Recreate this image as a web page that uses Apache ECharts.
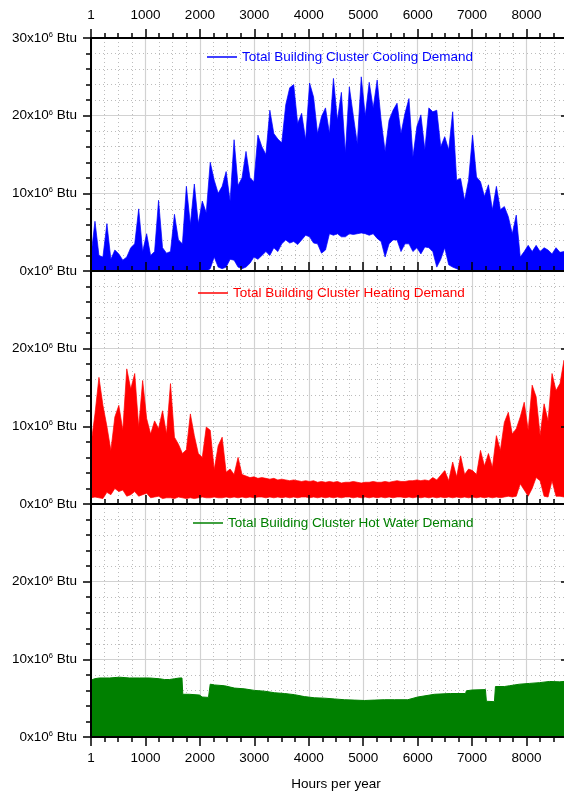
<!DOCTYPE html>
<html>
<head>
<meta charset="utf-8">
<script src="https://cdn.jsdelivr.net/npm/echarts@6/dist/echarts.min.js"></script>
<style>
html,body{margin:0;padding:0;background:#fff;}
#chart{width:564px;height:792px;}
</style>
</head>
<body>
<div id="chart"></div>
<script>
// ---- data ----
const hourGrid = [0,73,146,219,292,365,438,511,584,657,730,803,876,949,1022,1095,1168,1241,1314,1387,1460,1533,1606,1679,1752,1825,1898,1971,2044,2117,2190,2263,2336,2409,2482,2555,2628,2701,2774,2847,2920,2993,3066,3139,3212,3285,3358,3431,3504,3577,3650,3723,3796,3869,3942,4015,4088,4161,4234,4307,4380,4453,4526,4599,4672,4745,4818,4891,4964,5037,5110,5183,5256,5329,5402,5475,5548,5621,5694,5767,5840,5913,5986,6059,6132,6205,6278,6351,6424,6497,6570,6643,6716,6789,6862,6935,7008,7081,7154,7227,7300,7373,7446,7519,7592,7665,7738,7811,7884,7957,8030,8103,8176,8249,8322,8395,8468,8541,8614,8687,8760];

// Cooling demand (x10^6 Btu): upper and lower envelope of the hourly trace
const coolUpper = [
 2.0,6.4,2.0,1.8,6.1,1.5,2.7,2.2,1.4,1.8,
 3.0,3.5,8.0,2.5,4.8,2.0,2.5,9.1,3.0,2.3,
 2.5,7.3,4.0,3.5,10.9,6.0,11.2,6.1,9.0,7.5,
 14.0,11.7,10.0,10.9,12.8,9.0,16.9,11.0,12.0,15.4,
 12.0,11.5,17.5,16.0,15.0,20.7,17.7,17.0,16.5,21.4,
 23.6,24.0,19.0,20.3,16.9,24.2,22.4,17.7,19.9,21.0,
 17.7,24.8,19.4,23.0,15.2,23.7,20.0,16.4,25.0,20.0,
 24.3,21.0,24.6,19.4,15.4,19.4,20.7,21.6,17.7,20.3,
 22.2,14.7,18.6,20.1,15.6,21.0,20.5,20.7,16.0,17.3,
 15.6,20.5,11.7,11.9,9.1,11.7,17.5,12.1,11.5,9.6,
 11.1,7.9,10.9,7.9,8.3,7.0,4.8,7.2,1.8,2.5,
 3.3,2.5,3.3,2.5,3.0,2.7,2.2,3.0,2.4,2.5,2.0];
const coolLower = [
 0,0,0,0,0,0,0,0,0,0,
 0,0,0,0,0,0,0,0,0,0,
 0,0,0,0,0,0,0,0,0,0,
 0.3,1.8,0.5,0.3,0.5,1.5,1.4,0.5,0.3,0.5,
 1.0,1.8,1.5,2.0,2.5,2.0,3.0,2.5,3.5,4.0,
 3.6,3.8,3.4,4.0,4.6,4.4,3.6,3.5,2.3,2.7,
 4.8,4.6,4.8,4.4,4.4,4.8,4.7,4.8,4.9,4.8,
 4.6,4.8,4.2,3.8,1.8,3.5,4.0,4.0,2.5,3.5,
 3.5,2.5,3.0,2.2,3.1,3.0,2.5,0.5,1.5,3.0,
 0.8,0.5,0.3,0,0,0,0,0,0,0,
 0,0,0,0,0,0,0,0,0,0,
 0,0,0,0,0,0,0,0,0,0,0];

// Heating demand
const heatUpper = [
 7.7,11.6,16.3,12.7,10.0,6.9,11.2,12.7,9.5,17.4,
 14.8,16.8,9.9,15.9,11.0,9.0,10.7,9.7,12.0,9.0,
 15.5,8.6,7.7,6.5,7.0,11.6,8.8,6.5,6.0,9.9,
 9.5,4.4,7.5,8.6,4.1,4.5,3.8,6.0,3.8,3.6,
 3.4,3.5,3.3,3.4,3.3,3.2,3.3,3.1,3.2,3.1,
 3.0,3.1,3.0,2.9,3.0,2.9,3.0,2.8,2.9,2.8,
 2.9,2.8,2.9,2.7,2.8,2.8,2.9,2.8,2.7,2.8,
 2.8,2.9,2.8,2.8,2.9,2.8,2.9,3.0,2.9,2.9,
 3.0,3.0,3.1,3.0,3.1,3.0,3.4,3.1,3.7,4.3,
 3.0,5.4,3.5,6.2,3.8,4.5,4.3,3.8,6.9,4.9,
 6.5,4.7,8.8,6.9,10.5,11.8,9.0,9.7,11.2,13.1,
 9.5,15.3,13.8,8.8,12.9,10.7,16.8,14.6,15.5,18.5,16.0];
const heatLower = [
 0.8,0.9,0.8,0.7,1.5,1.2,2.0,1.6,1.8,1.0,
 1.2,1.6,1.0,1.2,1.4,0.8,0.9,1.0,0.7,0.8,
 0.8,0.7,0.9,0.8,0.7,0.8,0.7,0.8,0.9,0.8,
 0.8,0.9,0.8,0.8,0.9,0.8,0.9,0.8,0.9,0.8,
 0.9,0.8,0.9,0.9,0.8,0.9,0.8,0.9,0.8,0.9,
 0.8,0.9,0.8,0.9,0.9,0.8,0.9,0.8,0.9,0.8,
 0.9,0.8,0.9,0.8,0.9,0.9,0.8,0.9,0.8,0.9,
 0.8,0.9,0.8,0.9,0.8,0.9,0.8,0.9,0.9,0.8,
 0.9,0.8,0.9,0.8,0.9,0.8,0.9,0.8,0.9,0.8,
 0.9,0.8,0.9,0.8,0.9,0.8,0.9,0.8,0.9,0.8,
 0.9,0.8,0.9,0.8,0.9,1.0,0.9,1.0,2.6,1.8,
 1.0,2.0,3.4,3.0,1.0,0.9,3.0,1.0,1.0,0.9,1.0];

// Hot water demand
const hwHours  = [0,64,156,340,523,707,890,1074,1258,1350,1442,1533,1625,1671,1686,1809,1993,2040,2158,2180,2190,2268,2452,2635,2819,3003,3186,3370,3554,3737,3921,4104,4288,4472,4656,4839,5023,5207,5390,5574,5818,6002,6308,6600,6880,6895,7000,7245,7262,7410,7429,7594,7686,7870,8053,8237,8421,8604,8760];
const hwValues = [7.3,7.5,7.6,7.6,7.7,7.6,7.6,7.6,7.5,7.4,7.4,7.5,7.6,7.6,5.5,5.5,5.4,5.15,5.1,5.05,6.8,6.7,6.6,6.3,6.2,6.0,5.9,5.7,5.6,5.45,5.2,5.05,5.0,4.9,4.8,4.75,4.7,4.75,4.8,4.8,4.8,5.15,5.5,5.6,5.6,5.95,6.05,6.1,4.6,4.55,6.5,6.5,6.6,6.8,6.9,7.0,7.15,7.1,7.2];

const seriesNames = ['Total Building Cluster Cooling Demand','Total Building Cluster Heating Demand','Total Building Cluster Hot Water Demand'];
const seriesColors = ['#0000ff','#ff0000','#008000'];
const xLabelFirst = '1';
const axisName = 'Hours per year';

// ---- layout ----
const FONT = 'Liberation Sans, Arial, sans-serif';
const FS = 13.5;
const LEFT = 91, GW = 490, GH = 233;
const TOPS = [38, 271, 504];

function xData(g){
  return {type:'value', gridIndex:g, min:0, max:9000, interval:1000, position:'bottom', z:0,
    axisLine:{show:false}, axisTick:{show:false}, axisLabel:{show:false},
    minorTick:{show:false, splitNumber:4},
    splitLine:{show:true, lineStyle:{color:'#d2d2d2', width:1.2}},
    minorSplitLine:{show:true, lineStyle:{color:'#bcbcbc', width:1, type:[1,3]}}};
}
function xDeco(g, pos, inside, showLabels, name){
  const a = {type:'value', gridIndex:g, min:0, max:9000, interval:1000, position:pos, z:10,
    axisLine:{show:true, onZero:false, lineStyle:{color:'#000', width:2}},
    axisTick:{show:true, inside:inside, length:9, lineStyle:{color:'#000', width:1.5}},
    minorTick:{show:true, splitNumber:4, length:5, lineStyle:{color:'#000', width:1.5}},
    axisLabel:{show:showLabels, margin: pos==='top'?16:14, fontSize:FS, fontFamily:FONT, color:'#000',
      formatter:function(v){ return v===0 ? xLabelFirst : (v>=9000 ? '' : String(v)); }},
    splitLine:{show:false}};
  if (name){
    a.name = name; a.nameLocation='middle'; a.nameGap=40;
    a.nameTextStyle={fontSize:FS, fontFamily:FONT, color:'#000'};
  }
  return a;
}
function yData(g){
  return {type:'value', gridIndex:g, min:0, max:30, interval:10, position:'left', z:0,
    axisLine:{show:false}, axisTick:{show:false}, axisLabel:{show:false},
    minorTick:{show:false, splitNumber:5},
    splitLine:{show:true, lineStyle:{color:'#d2d2d2', width:1.2}},
    minorSplitLine:{show:true, lineStyle:{color:'#bcbcbc', width:1, type:[1,3]}}};
}
function yLeft(g, showMax){
  return {type:'value', gridIndex:g, min:0, max:30, interval:10, position:'left', z:10,
    axisLine:{show:true, onZero:false, lineStyle:{color:'#000', width:2}},
    axisTick:{show:true, inside:false, length:8, lineStyle:{color:'#000', width:1.5}},
    minorTick:{show:true, splitNumber:5, length:5, lineStyle:{color:'#000', width:1.5}},
    splitLine:{show:false},
    axisLabel:{show:true, margin:14, showMaxLabel:showMax, color:'#000', fontFamily:FONT,
      formatter:function(v){ return '{n|'+v+'x10}{s|6}{n| Btu}'; },
      rich:{ n:{fontSize:FS, fontFamily:FONT, color:'#000', lineHeight:14},
             s:{fontSize:7.5, fontFamily:FONT, color:'#000', lineHeight:7, verticalAlign:'top'} }}};
}
function yRight(g){
  return {type:'value', gridIndex:g, min:0, max:30, interval:10, position:'right', offset:-13, z:10,
    axisLine:{show:true, onZero:false, lineStyle:{color:'#000', width:2}},
    axisTick:{show:true, inside:true, length:7, lineStyle:{color:'#000', width:1.5}},
    minorTick:{show:true, splitNumber:5, length:4, lineStyle:{color:'#000', width:1.5}},
    axisLabel:{show:false}, splitLine:{show:false}};
}

function bandItem(hours, upper, lower, color){
  return function(params, api){
    if (params.dataIndex !== 0) return null;
    const pts = [];
    for (let i = 0; i < hours.length; i++) pts.push(api.coord([hours[i], upper[i]]));
    for (let i = hours.length - 1; i >= 0; i--) pts.push(api.coord([hours[i], lower[i]]));
    return {type:'polygon', shape:{points:pts}, style:{fill:color, stroke:color, lineWidth:0.7}};
  };
}
function bandData(hours, upper, lower){
  return hours.map(function(h,i){ return [h, lower[i], upper[i]]; });
}
function legendFor(i, left, top){
  return {show:true, left:left, top:top, padding:0, itemWidth:30, itemHeight:1.5, itemGap:0,
    selectedMode:false,
    textStyle:{color:seriesColors[i], fontSize:FS, fontFamily:FONT},
    data:[{name:seriesNames[i], icon:'rect', itemStyle:{color:seriesColors[i]}}]};
}

const option = {
  backgroundColor:'#fff',
  animation:false,
  textStyle:{fontFamily:FONT},
  grid: TOPS.map(function(t){ return {left:LEFT, top:t, width:GW, height:GH, outerBoundsMode:'none', containLabel:false}; }),
  xAxis:[xData(0), xData(1), xData(2),
         xDeco(0,'top',false,true), xDeco(0,'bottom',true,false),
         xDeco(1,'bottom',true,false), xDeco(2,'bottom',false,true,axisName)],
  yAxis:[yData(0), yData(1), yData(2),
         yLeft(0,true), yLeft(1,false), yLeft(2,false),
         yRight(0), yRight(1), yRight(2)],
  legend:[legendFor(0,207,50), legendFor(1,198,286), legendFor(2,193,516)],
  series:[
    {type:'custom', name:seriesNames[0], xAxisIndex:0, yAxisIndex:0, clip:true,
     itemStyle:{color:seriesColors[0]}, encode:{x:0, y:[1,2]},
     renderItem:bandItem(hourGrid, coolUpper, coolLower, seriesColors[0]),
     data:bandData(hourGrid, coolUpper, coolLower)},
    {type:'custom', name:seriesNames[1], xAxisIndex:1, yAxisIndex:1, clip:true,
     itemStyle:{color:seriesColors[1]}, encode:{x:0, y:[1,2]},
     renderItem:bandItem(hourGrid, heatUpper, heatLower, seriesColors[1]),
     data:bandData(hourGrid, heatUpper, heatLower)},
    {type:'line', name:seriesNames[2], xAxisIndex:2, yAxisIndex:2, symbol:'none',
     color:seriesColors[2], lineStyle:{color:seriesColors[2], width:1},
     areaStyle:{color:seriesColors[2], opacity:1},
     data:hwHours.map(function(h,i){ return [h, hwValues[i]]; })}
  ]
};

const chart = echarts.init(document.getElementById('chart'), null, {renderer:'canvas', width:564, height:792});
chart.setOption(option);
</script>
</body>
</html>
